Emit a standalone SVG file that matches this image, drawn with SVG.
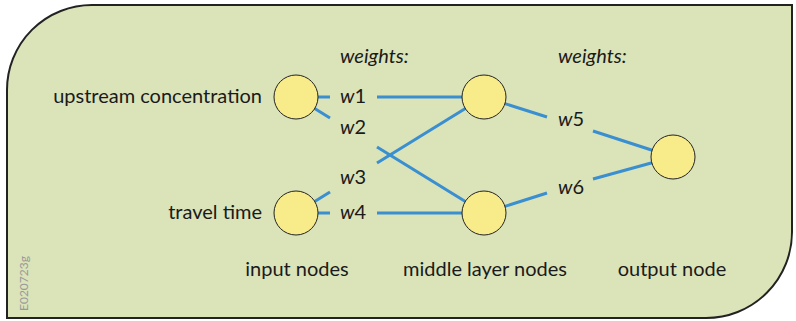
<svg xmlns="http://www.w3.org/2000/svg" width="796" height="321" viewBox="0 0 796 321">
<style>
.bg{fill:#dbe3b9;stroke:#222;stroke-width:2}
.node{fill:#f8ec8a;stroke:#222;stroke-width:1}
.edge{stroke:#3a8fd0;stroke-width:3;fill:none}
text{font-family:Lato,"Liberation Sans",sans-serif;font-size:20px;fill:#1a1a1a}
.it{font-style:italic}
.lab{text-anchor:middle}
.code{font-size:12px;fill:#999}
</style>
<path class="bg" d="M7,90 A85,85 0 0 1 92,5 L792,5 L792,232 A86,86 0 0 1 706,318 L7,318 Z"/>
<g id="connectors">
<line class="edge" x1="296" y1="97" x2="330" y2="97"/>
<line class="edge" x1="377" y1="97" x2="484" y2="97"/>
<line class="edge" x1="296" y1="97" x2="330" y2="118"/>
<line class="edge" x1="377" y1="147" x2="484" y2="213"/>
<line class="edge" x1="296" y1="213" x2="330" y2="192"/>
<line class="edge" x1="377" y1="163" x2="484" y2="97"/>
<line class="edge" x1="296" y1="213" x2="330" y2="213"/>
<line class="edge" x1="377" y1="213" x2="484" y2="213"/>
<line class="edge" x1="484" y1="97" x2="547" y2="117"/>
<line class="edge" x1="593" y1="131" x2="673" y2="157"/>
<line class="edge" x1="484" y1="213" x2="547" y2="193"/>
<line class="edge" x1="593" y1="179" x2="673" y2="157"/>
</g>
<g id="in1"><circle class="node" cx="296" cy="97" r="22"/><text x="262" y="103" text-anchor="end">upstream concentration</text></g>
<g id="in2"><circle class="node" cx="296" cy="213" r="22"/><text x="262" y="219" text-anchor="end">travel time</text></g>
<g id="mid1"><circle class="node" cx="484" cy="97" r="22"/></g>
<g id="mid2"><circle class="node" cx="484" cy="213" r="22"/></g>
<g id="out"><circle class="node" cx="673" cy="157" r="22"/></g>
<g id="labels">
<text class="it" x="340" y="63">weights:</text>
<text class="it" x="558" y="63">weights:</text>
<text x="340" y="103"><tspan class="it">w</tspan>1</text>
<text x="340" y="134"><tspan class="it">w</tspan>2</text>
<text x="340" y="184"><tspan class="it">w</tspan>3</text>
<text x="340" y="219"><tspan class="it">w</tspan>4</text>
<text x="558" y="126"><tspan class="it">w</tspan>5</text>
<text x="558" y="194"><tspan class="it">w</tspan>6</text>
<text class="lab" x="297" y="276">input nodes</text>
<text class="lab" x="485" y="276">middle layer nodes</text>
<text class="lab" x="672" y="276">output node</text>
<text class="code" transform="translate(28,311) rotate(-90)">E020723g</text>
</g>
</svg>
